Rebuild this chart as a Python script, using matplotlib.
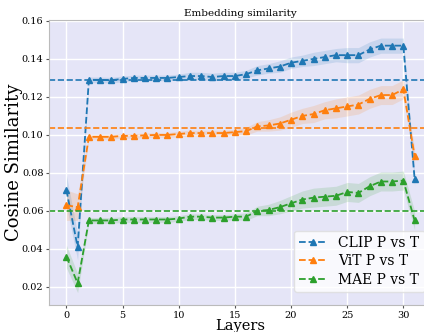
import matplotlib
matplotlib.use("Agg")
import matplotlib.pyplot as plt
import numpy as np

layers = list(range(32))
clip = [0.071, 0.041, 0.129, 0.129, 0.1288, 0.1295, 0.130, 0.130, 0.130, 0.130,
        0.1305, 0.131, 0.131, 0.1305, 0.131, 0.131, 0.132, 0.134, 0.135, 0.136,
        0.138, 0.139, 0.140, 0.141, 0.142, 0.142, 0.142, 0.145, 0.147, 0.147,
        0.147, 0.077]
clip_std = [0.008, 0.007, 0.0015, 0.0015, 0.0015, 0.0015, 0.0015, 0.0015, 0.0015, 0.0015,
            0.0015, 0.002, 0.002, 0.002, 0.002, 0.002, 0.002, 0.0025, 0.0025, 0.003,
            0.003, 0.003, 0.0035, 0.0035, 0.0035, 0.004, 0.004, 0.004, 0.004, 0.004,
            0.004, 0.004]
vit = [0.063, 0.062, 0.099, 0.099, 0.099, 0.0995, 0.0995, 0.0998, 0.100, 0.100,
       0.1005, 0.101, 0.101, 0.101, 0.101, 0.1015, 0.102, 0.1045, 0.105, 0.106,
       0.108, 0.110, 0.111, 0.113, 0.114, 0.115, 0.116, 0.119, 0.121, 0.121,
       0.124, 0.089]
vit_std = [0.008, 0.007, 0.0012, 0.0012, 0.0012, 0.0012, 0.0012, 0.0012, 0.0012, 0.0012,
           0.0015, 0.0015, 0.0015, 0.0015, 0.0015, 0.0015, 0.002, 0.0025, 0.003, 0.0035,
           0.004, 0.004, 0.0045, 0.0045, 0.005, 0.005, 0.005, 0.005, 0.005, 0.005,
           0.005, 0.004]
mae = [0.036, 0.022, 0.055, 0.055, 0.055, 0.0555, 0.0555, 0.0555, 0.0555, 0.0555,
       0.056, 0.057, 0.057, 0.0565, 0.0565, 0.057, 0.057, 0.060, 0.0605, 0.062,
       0.064, 0.066, 0.067, 0.0675, 0.068, 0.070, 0.0695, 0.073, 0.0755, 0.0755,
       0.076, 0.055]
mae_std = [0.006, 0.005, 0.0015, 0.0015, 0.0015, 0.0015, 0.0015, 0.0015, 0.0015, 0.0015,
           0.0015, 0.0015, 0.0015, 0.0015, 0.0015, 0.0015, 0.002, 0.0025, 0.003, 0.0035,
           0.004, 0.0045, 0.005, 0.005, 0.005, 0.005, 0.005, 0.005, 0.005, 0.005,
           0.005, 0.005]
means = [0.1287, 0.1038, 0.0600]
labels = ["CLIP P vs T", "ViT P vs T", "MAE P vs T"]
colors = ["#1f77b4", "#ff7f0e", "#2ca02c"]

plt.rcParams['font.family'] = ['DejaVu Serif']
fig = plt.figure(figsize=(4.24, 3.32), dpi=100)
ax = fig.add_axes([49/424, 27/332, (432-49)/424, (305-20)/332])
ax.set_facecolor('#E5E5F7')
ax.grid(True, color='white', linewidth=1.0)
ax.set_axisbelow(True)
for s in ax.spines.values():
    s.set_color('#bbbbbb')
    s.set_linewidth(0.8)

x = np.array(layers)
for vals, sd, m, lab, c in zip([clip, vit, mae], [clip_std, vit_std, mae_std], means, labels, colors):
    v = np.array(vals); s = np.array(sd)
    ax.fill_between(x, v - s, v + s, color=c, alpha=0.15, linewidth=0)
    ax.plot(x, v, linestyle='--', marker='^', markersize=4.5, color=c, label=lab, linewidth=1.3)
    ax.axhline(m, color=c, linestyle='--', linewidth=1.2)

ax.set_xlim(-1.55, 32.55)
ax.set_ylim(0.0105, 0.1605)
ax.set_xticks([0, 5, 10, 15, 20, 25, 30])
ax.set_yticks([0.02, 0.04, 0.06, 0.08, 0.10, 0.12, 0.14, 0.16])
ax.set_yticklabels(["0.02", "0.04", "0.06", "0.08", "0.10", "0.12", "0.14", "0.16"])
ax.tick_params(labelsize=7, length=2.5, color='#555555', pad=1.5)
ax.set_title("Embedding similarity", fontsize=7.5, pad=3)
ax.set_xlabel("Layers", fontsize=10.5)
ax.xaxis.set_label_coords(0.499, -0.05)
ax.set_ylabel("Cosine Similarity", fontsize=13)
ax.yaxis.set_label_coords(-0.068, 0.5)
leg = fig.legend(loc='lower right', bbox_to_anchor=(1.0 + 8/424, 33/332), fontsize=10,
                 framealpha=0.8, facecolor='white', edgecolor='#dddddd',
                 handlelength=2.0, borderpad=0.4, labelspacing=0.3)
fig.savefig("out.png", dpi=100)
